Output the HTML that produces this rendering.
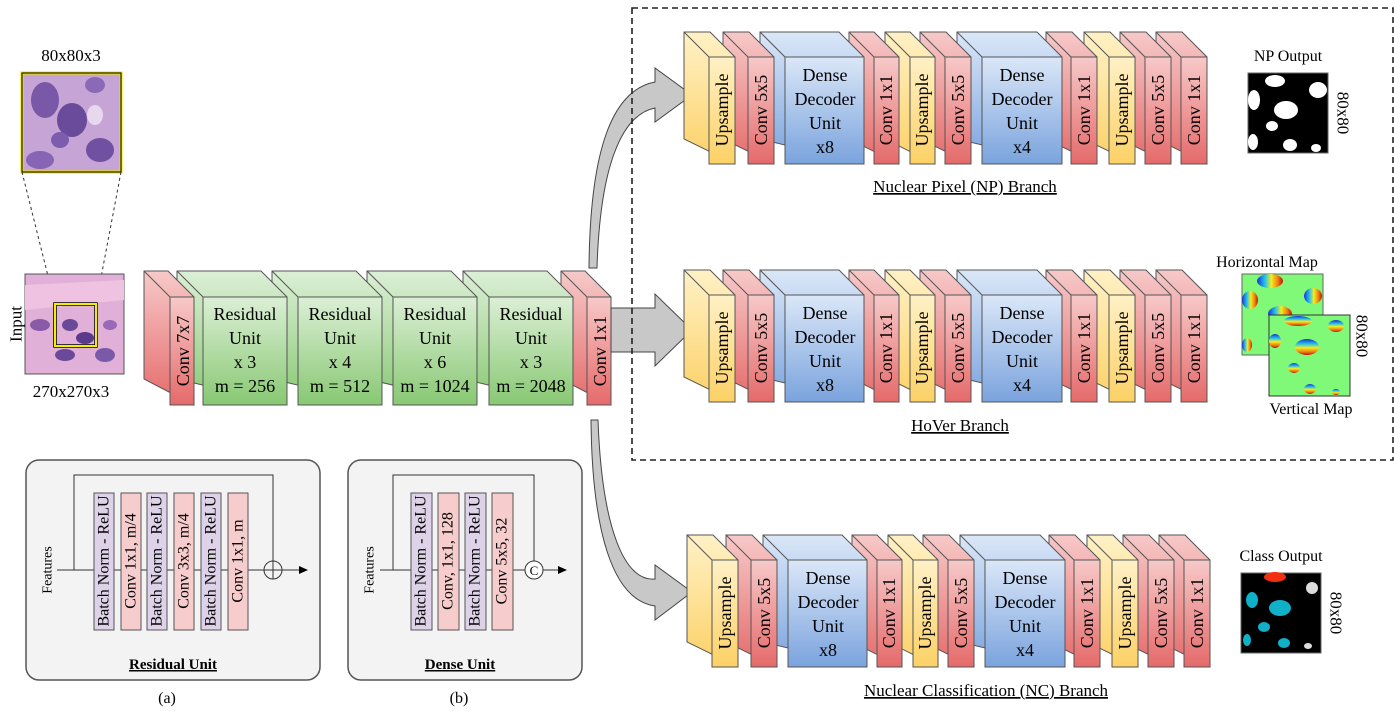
<!DOCTYPE html>
<html><head><meta charset="utf-8"><style>
html,body{margin:0;padding:0;background:#fff}
svg{display:block;font-family:"Liberation Serif",serif}
</style></head><body>
<svg width="1398" height="712" viewBox="0 0 1398 712" xmlns="http://www.w3.org/2000/svg">
<defs>
<linearGradient id="gR" x1="0" y1="0" x2="0" y2="1"><stop offset="0" stop-color="#f7c9c9"/><stop offset="1" stop-color="#e56a6a"/></linearGradient>
<linearGradient id="gY" x1="0" y1="0" x2="0" y2="1"><stop offset="0" stop-color="#fff1c6"/><stop offset="1" stop-color="#fcd166"/></linearGradient>
<linearGradient id="gB" x1="0" y1="0" x2="0" y2="1"><stop offset="0" stop-color="#dbe7f8"/><stop offset="1" stop-color="#7aa3dd"/></linearGradient>
<linearGradient id="gG" x1="0" y1="0" x2="0" y2="1"><stop offset="0" stop-color="#dcefd6"/><stop offset="1" stop-color="#88c873"/></linearGradient>
<linearGradient id="rb" x1="0" y1="0" x2="1" y2="0"><stop offset="0" stop-color="#2030d0"/><stop offset=".3" stop-color="#20c0f0"/><stop offset=".55" stop-color="#f0f020"/><stop offset=".8" stop-color="#f08010"/><stop offset="1" stop-color="#c01010"/></linearGradient>
<linearGradient id="rbv" x1="0" y1="0" x2="0" y2="1"><stop offset="0" stop-color="#2030d0"/><stop offset=".3" stop-color="#20c0f0"/><stop offset=".55" stop-color="#f0f020"/><stop offset=".8" stop-color="#f08010"/><stop offset="1" stop-color="#c01010"/></linearGradient>
</defs>
<g font-size="18" fill="#000">

<!-- Input images -->
<text x="71" y="61" text-anchor="middle" font-size="17">80x80x3</text>
<rect x="22" y="73" width="99" height="99" fill="#c7a4d6" stroke="#e8e000" stroke-width="3"/>
<ellipse cx="45" cy="100" rx="14" ry="18" fill="#7a58a8"/>
<ellipse cx="72" cy="120" rx="15" ry="17" fill="#6a4a9a"/>
<ellipse cx="95" cy="85" rx="10" ry="8" fill="#8a6ab6"/>
<ellipse cx="60" cy="140" rx="9" ry="8" fill="#7c5cac"/>
<ellipse cx="40" cy="160" rx="14" ry="9" fill="#8864b4"/>
<ellipse cx="100" cy="150" rx="14" ry="12" fill="#7050a0"/>
<ellipse cx="95" cy="115" rx="8" ry="10" fill="#e8d8ee"/>
<rect x="22" y="73" width="99" height="99" fill="none" stroke="#000" stroke-width="1"/>
<line x1="22" y1="172" x2="55" y2="304" stroke="#333" stroke-dasharray="3,3"/>
<line x1="121" y1="172" x2="96" y2="304" stroke="#333" stroke-dasharray="3,3"/>
<rect x="25" y="274" width="99" height="100" fill="#e0b0d8" stroke="#555"/>
<path d="M25,285 L124,280 L124,300 L25,310Z" fill="#eec2e0"/>
<ellipse cx="40" cy="325" rx="10" ry="6" fill="#8a5aa8"/>
<ellipse cx="70" cy="325" rx="8" ry="6" fill="#6a4a98"/>
<ellipse cx="85" cy="338" rx="9" ry="6" fill="#5a3a8a"/>
<ellipse cx="65" cy="355" rx="10" ry="6" fill="#6a4a98"/>
<ellipse cx="105" cy="355" rx="10" ry="7" fill="#7a5aa8"/>
<ellipse cx="110" cy="325" rx="7" ry="5" fill="#9a6ab8"/>
<rect x="55" y="304" width="41" height="42" fill="none" stroke="#000" stroke-width="3.5"/>
<rect x="55" y="304" width="41" height="42" fill="none" stroke="#f0f000" stroke-width="2"/>
<text transform="translate(16,324) rotate(-90)" text-anchor="middle" dominant-baseline="central" font-size="17">Input</text>
<text x="71" y="397" text-anchor="middle" font-size="17">270x270x3</text>

<!-- Encoder (right to left) -->
<g stroke="#555" stroke-width="1">
<polygon points="561,271 585,271 611,297 611,405 561,379" fill="url(#gR)"/><rect x="587" y="297" width="24" height="108" fill="url(#gR)"/><line x1="561" y1="271" x2="587" y2="297"/>
<polygon points="463,271 547,271 573,297 573,405 463,379" fill="url(#gG)"/><rect x="489" y="297" width="84" height="108" fill="url(#gG)"/><line x1="463" y1="271" x2="489" y2="297"/>
<polygon points="367,271 451,271 477,297 477,405 367,379" fill="url(#gG)"/><rect x="393" y="297" width="84" height="108" fill="url(#gG)"/><line x1="367" y1="271" x2="393" y2="297"/>
<polygon points="272,271 356,271 382,297 382,405 272,379" fill="url(#gG)"/><rect x="298" y="297" width="84" height="108" fill="url(#gG)"/><line x1="272" y1="271" x2="298" y2="297"/>
<polygon points="177,271 261,271 287,297 287,405 177,379" fill="url(#gG)"/><rect x="203" y="297" width="84" height="108" fill="url(#gG)"/><line x1="177" y1="271" x2="203" y2="297"/>
<polygon points="144,271 168,271 194,297 194,405 144,379" fill="url(#gR)"/><rect x="170" y="297" width="24" height="108" fill="url(#gR)"/><line x1="144" y1="271" x2="170" y2="297"/>
</g>
<text transform="translate(183,351) rotate(-90)" text-anchor="middle" dominant-baseline="central">Conv 7x7</text>
<text transform="translate(600,351) rotate(-90)" text-anchor="middle" dominant-baseline="central">Conv 1x1</text>
<g text-anchor="middle">
<text x="245" y="320">Residual</text><text x="245" y="344">Unit</text><text x="245" y="368">x 3</text><text x="245" y="392">m = 256</text>
<text x="340" y="320">Residual</text><text x="340" y="344">Unit</text><text x="340" y="368">x 4</text><text x="340" y="392">m = 512</text>
<text x="435" y="320">Residual</text><text x="435" y="344">Unit</text><text x="435" y="368">x 6</text><text x="435" y="392">m = 1024</text>
<text x="531" y="320">Residual</text><text x="531" y="344">Unit</text><text x="531" y="368">x 3</text><text x="531" y="392">m = 2048</text>
</g>

<!-- Arrows -->
<g fill="#c8c8c8" stroke="#444" stroke-width="1">
<polygon points="611,308 655,308 655,294 692,330 655,366 655,352 611,352"/>
<path d="M589,268 C590,150 612,90 655,82 L655,68 L692,95 L655,122 L655,108 C620,115 600,170 597,268 Z"/>
<path d="M598,420 C602,530 625,582 655,579 L655,565 L692,592 L655,620 L655,606 C612,600 592,530 591,420 Z"/>
</g>

<rect x="632" y="8" width="761" height="452" fill="none" stroke="#222" stroke-width="1.6" stroke-dasharray="6,4"/>

<!-- NP branch -->
<g>
<g stroke="#555">
<polygon points="1156,32 1182,32 1207,57 1207,164 1156,139" fill="url(#gR)"/><rect x="1181" y="57" width="26" height="107" fill="url(#gR)"/><line x1="1156" y1="32" x2="1181" y2="57"/>
<polygon points="1120,32 1146,32 1171,57 1171,164 1120,139" fill="url(#gR)"/><rect x="1145" y="57" width="26" height="107" fill="url(#gR)"/><line x1="1120" y1="32" x2="1145" y2="57"/>
<polygon points="1084,32 1110,32 1135,57 1135,164 1084,139" fill="url(#gY)"/><rect x="1109" y="57" width="26" height="107" fill="url(#gY)"/><line x1="1084" y1="32" x2="1109" y2="57"/>
<polygon points="1046,32 1072,32 1097,57 1097,164 1046,139" fill="url(#gR)"/><rect x="1071" y="57" width="26" height="107" fill="url(#gR)"/><line x1="1046" y1="32" x2="1071" y2="57"/>
<polygon points="957,32 1037,32 1062,57 1062,164 957,139" fill="url(#gB)"/><rect x="982" y="57" width="80" height="107" fill="url(#gB)"/><line x1="957" y1="32" x2="982" y2="57"/>
<polygon points="920,32 946,32 971,57 971,164 920,139" fill="url(#gR)"/><rect x="945" y="57" width="26" height="107" fill="url(#gR)"/><line x1="920" y1="32" x2="945" y2="57"/>
<polygon points="885,32 910,32 935,57 935,164 885,139" fill="url(#gY)"/><rect x="910" y="57" width="25" height="107" fill="url(#gY)"/><line x1="885" y1="32" x2="910" y2="57"/>
<polygon points="849,32 874,32 899,57 899,164 849,139" fill="url(#gR)"/><rect x="874" y="57" width="25" height="107" fill="url(#gR)"/><line x1="849" y1="32" x2="874" y2="57"/>
<polygon points="760,32 839,32 864,57 864,164 760,139" fill="url(#gB)"/><rect x="785" y="57" width="79" height="107" fill="url(#gB)"/><line x1="760" y1="32" x2="785" y2="57"/>
<polygon points="723,32 749,32 774,57 774,164 723,139" fill="url(#gR)"/><rect x="748" y="57" width="26" height="107" fill="url(#gR)"/><line x1="723" y1="32" x2="748" y2="57"/>
<polygon points="684,32 710,32 735,57 735,164 684,139" fill="url(#gY)"/><rect x="709" y="57" width="26" height="107" fill="url(#gY)"/><line x1="684" y1="32" x2="709" y2="57"/>
</g>
<g text-anchor="middle" dominant-baseline="central">
<text transform="translate(722,110) rotate(-90)">Upsample</text>
<text transform="translate(761,110) rotate(-90)">Conv 5x5</text>
<text transform="translate(886,110) rotate(-90)">Conv 1x1</text>
<text transform="translate(922,110) rotate(-90)">Upsample</text>
<text transform="translate(958,110) rotate(-90)">Conv 5x5</text>
<text transform="translate(1084,110) rotate(-90)">Conv 1x1</text>
<text transform="translate(1122,110) rotate(-90)">Upsample</text>
<text transform="translate(1158,110) rotate(-90)">Conv 5x5</text>
<text transform="translate(1194,110) rotate(-90)">Conv 1x1</text>
</g>
<g text-anchor="middle">
<text x="825" y="81">Dense</text><text x="825" y="105">Decoder</text><text x="825" y="129">Unit</text><text x="825" y="153">x8</text>
<text x="1022" y="81">Dense</text><text x="1022" y="105">Decoder</text><text x="1022" y="129">Unit</text><text x="1022" y="153">x4</text>
</g>
<text x="965" y="192" text-anchor="middle" text-decoration="underline" font-size="17">Nuclear Pixel (NP) Branch</text>
</g>

<!-- HoVer branch -->
<g transform="translate(0,238)">
<g stroke="#555">
<polygon points="1156,32 1182,32 1207,57 1207,164 1156,139" fill="url(#gR)"/><rect x="1181" y="57" width="26" height="107" fill="url(#gR)"/><line x1="1156" y1="32" x2="1181" y2="57"/>
<polygon points="1120,32 1146,32 1171,57 1171,164 1120,139" fill="url(#gR)"/><rect x="1145" y="57" width="26" height="107" fill="url(#gR)"/><line x1="1120" y1="32" x2="1145" y2="57"/>
<polygon points="1084,32 1110,32 1135,57 1135,164 1084,139" fill="url(#gY)"/><rect x="1109" y="57" width="26" height="107" fill="url(#gY)"/><line x1="1084" y1="32" x2="1109" y2="57"/>
<polygon points="1046,32 1072,32 1097,57 1097,164 1046,139" fill="url(#gR)"/><rect x="1071" y="57" width="26" height="107" fill="url(#gR)"/><line x1="1046" y1="32" x2="1071" y2="57"/>
<polygon points="957,32 1037,32 1062,57 1062,164 957,139" fill="url(#gB)"/><rect x="982" y="57" width="80" height="107" fill="url(#gB)"/><line x1="957" y1="32" x2="982" y2="57"/>
<polygon points="920,32 946,32 971,57 971,164 920,139" fill="url(#gR)"/><rect x="945" y="57" width="26" height="107" fill="url(#gR)"/><line x1="920" y1="32" x2="945" y2="57"/>
<polygon points="885,32 910,32 935,57 935,164 885,139" fill="url(#gY)"/><rect x="910" y="57" width="25" height="107" fill="url(#gY)"/><line x1="885" y1="32" x2="910" y2="57"/>
<polygon points="849,32 874,32 899,57 899,164 849,139" fill="url(#gR)"/><rect x="874" y="57" width="25" height="107" fill="url(#gR)"/><line x1="849" y1="32" x2="874" y2="57"/>
<polygon points="760,32 839,32 864,57 864,164 760,139" fill="url(#gB)"/><rect x="785" y="57" width="79" height="107" fill="url(#gB)"/><line x1="760" y1="32" x2="785" y2="57"/>
<polygon points="723,32 749,32 774,57 774,164 723,139" fill="url(#gR)"/><rect x="748" y="57" width="26" height="107" fill="url(#gR)"/><line x1="723" y1="32" x2="748" y2="57"/>
<polygon points="684,32 710,32 735,57 735,164 684,139" fill="url(#gY)"/><rect x="709" y="57" width="26" height="107" fill="url(#gY)"/><line x1="684" y1="32" x2="709" y2="57"/>
</g>
<g text-anchor="middle" dominant-baseline="central">
<text transform="translate(722,110) rotate(-90)">Upsample</text>
<text transform="translate(761,110) rotate(-90)">Conv 5x5</text>
<text transform="translate(886,110) rotate(-90)">Conv 1x1</text>
<text transform="translate(922,110) rotate(-90)">Upsample</text>
<text transform="translate(958,110) rotate(-90)">Conv 5x5</text>
<text transform="translate(1084,110) rotate(-90)">Conv 1x1</text>
<text transform="translate(1122,110) rotate(-90)">Upsample</text>
<text transform="translate(1158,110) rotate(-90)">Conv 5x5</text>
<text transform="translate(1194,110) rotate(-90)">Conv 1x1</text>
</g>
<g text-anchor="middle">
<text x="825" y="81">Dense</text><text x="825" y="105">Decoder</text><text x="825" y="129">Unit</text><text x="825" y="153">x8</text>
<text x="1022" y="81">Dense</text><text x="1022" y="105">Decoder</text><text x="1022" y="129">Unit</text><text x="1022" y="153">x4</text>
</g>
<text x="960" y="193" text-anchor="middle" text-decoration="underline" font-size="17">HoVer Branch</text>
</g>

<!-- NC branch -->
<g transform="translate(3,503)">
<g stroke="#555">
<polygon points="1156,32 1182,32 1207,57 1207,164 1156,139" fill="url(#gR)"/><rect x="1181" y="57" width="26" height="107" fill="url(#gR)"/><line x1="1156" y1="32" x2="1181" y2="57"/>
<polygon points="1120,32 1146,32 1171,57 1171,164 1120,139" fill="url(#gR)"/><rect x="1145" y="57" width="26" height="107" fill="url(#gR)"/><line x1="1120" y1="32" x2="1145" y2="57"/>
<polygon points="1084,32 1110,32 1135,57 1135,164 1084,139" fill="url(#gY)"/><rect x="1109" y="57" width="26" height="107" fill="url(#gY)"/><line x1="1084" y1="32" x2="1109" y2="57"/>
<polygon points="1046,32 1072,32 1097,57 1097,164 1046,139" fill="url(#gR)"/><rect x="1071" y="57" width="26" height="107" fill="url(#gR)"/><line x1="1046" y1="32" x2="1071" y2="57"/>
<polygon points="957,32 1037,32 1062,57 1062,164 957,139" fill="url(#gB)"/><rect x="982" y="57" width="80" height="107" fill="url(#gB)"/><line x1="957" y1="32" x2="982" y2="57"/>
<polygon points="920,32 946,32 971,57 971,164 920,139" fill="url(#gR)"/><rect x="945" y="57" width="26" height="107" fill="url(#gR)"/><line x1="920" y1="32" x2="945" y2="57"/>
<polygon points="885,32 910,32 935,57 935,164 885,139" fill="url(#gY)"/><rect x="910" y="57" width="25" height="107" fill="url(#gY)"/><line x1="885" y1="32" x2="910" y2="57"/>
<polygon points="849,32 874,32 899,57 899,164 849,139" fill="url(#gR)"/><rect x="874" y="57" width="25" height="107" fill="url(#gR)"/><line x1="849" y1="32" x2="874" y2="57"/>
<polygon points="760,32 839,32 864,57 864,164 760,139" fill="url(#gB)"/><rect x="785" y="57" width="79" height="107" fill="url(#gB)"/><line x1="760" y1="32" x2="785" y2="57"/>
<polygon points="723,32 749,32 774,57 774,164 723,139" fill="url(#gR)"/><rect x="748" y="57" width="26" height="107" fill="url(#gR)"/><line x1="723" y1="32" x2="748" y2="57"/>
<polygon points="684,32 710,32 735,57 735,164 684,139" fill="url(#gY)"/><rect x="709" y="57" width="26" height="107" fill="url(#gY)"/><line x1="684" y1="32" x2="709" y2="57"/>
</g>
<g text-anchor="middle" dominant-baseline="central">
<text transform="translate(722,110) rotate(-90)">Upsample</text>
<text transform="translate(761,110) rotate(-90)">Conv 5x5</text>
<text transform="translate(886,110) rotate(-90)">Conv 1x1</text>
<text transform="translate(922,110) rotate(-90)">Upsample</text>
<text transform="translate(958,110) rotate(-90)">Conv 5x5</text>
<text transform="translate(1084,110) rotate(-90)">Conv 1x1</text>
<text transform="translate(1122,110) rotate(-90)">Upsample</text>
<text transform="translate(1158,110) rotate(-90)">Conv 5x5</text>
<text transform="translate(1194,110) rotate(-90)">Conv 1x1</text>
</g>
<g text-anchor="middle">
<text x="825" y="81">Dense</text><text x="825" y="105">Decoder</text><text x="825" y="129">Unit</text><text x="825" y="153">x8</text>
<text x="1022" y="81">Dense</text><text x="1022" y="105">Decoder</text><text x="1022" y="129">Unit</text><text x="1022" y="153">x4</text>
</g>
<text x="983" y="193" text-anchor="middle" text-decoration="underline" font-size="17">Nuclear Classification (NC) Branch</text>
</g>

<!-- Outputs -->
<text x="1288" y="61" text-anchor="middle" font-size="16">NP Output</text>
<rect x="1248" y="73" width="80" height="80" fill="#000" stroke="#666"/>
<g fill="#fff">
<ellipse cx="1275" cy="81" rx="10" ry="6"/><ellipse cx="1318" cy="90" rx="9" ry="8"/><ellipse cx="1254" cy="100" rx="6" ry="10"/>
<ellipse cx="1286" cy="110" rx="12" ry="9"/><ellipse cx="1272" cy="126" rx="6" ry="5"/><ellipse cx="1253" cy="142" rx="5" ry="8"/>
<ellipse cx="1290" cy="145" rx="7" ry="6"/><ellipse cx="1316" cy="148" rx="5" ry="4"/>
</g>
<text transform="translate(1343,113) rotate(90)" text-anchor="middle" dominant-baseline="central" font-size="17">80x80</text>

<text x="1267" y="267" text-anchor="middle" font-size="16">Horizontal Map</text>
<rect x="1242" y="274" width="81" height="81" fill="#80f878" stroke="#666"/>
<ellipse cx="1270" cy="281" rx="13" ry="7" fill="url(#rb)"/><ellipse cx="1313" cy="296" rx="9" ry="8" fill="url(#rb)"/><ellipse cx="1250" cy="300" rx="8" ry="9" fill="url(#rb)"/><ellipse cx="1280" cy="314" rx="12" ry="8" fill="url(#rb)"/><ellipse cx="1247" cy="345" rx="5" ry="7" fill="url(#rb)"/>
<rect x="1269" y="315" width="81" height="81" fill="#80f878" stroke="#333"/>
<ellipse cx="1298" cy="321" rx="14" ry="5" fill="url(#rbv)"/><ellipse cx="1336" cy="326" rx="8" ry="6" fill="url(#rbv)"/><ellipse cx="1307" cy="347" rx="12" ry="8" fill="url(#rbv)"/><ellipse cx="1275" cy="341" rx="6" ry="7" fill="url(#rbv)"/><ellipse cx="1294" cy="368" rx="6" ry="5" fill="url(#rbv)"/><ellipse cx="1310" cy="389" rx="6" ry="5" fill="url(#rbv)"/><ellipse cx="1336" cy="392" rx="4" ry="3" fill="url(#rbv)"/>
<text x="1311" y="414" text-anchor="middle" font-size="16">Vertical Map</text>
<text transform="translate(1362,336) rotate(90)" text-anchor="middle" dominant-baseline="central" font-size="17">80x80</text>

<text x="1281" y="561" text-anchor="middle" font-size="16">Class Output</text>
<rect x="1241" y="573" width="80" height="80" fill="#000" stroke="#666"/>
<ellipse cx="1275" cy="577" rx="11" ry="5" fill="#f03010"/>
<ellipse cx="1312" cy="588" rx="6" ry="6" fill="#ddd"/>
<ellipse cx="1252" cy="600" rx="6" ry="8" fill="#10b0c8"/>
<ellipse cx="1280" cy="608" rx="11" ry="8" fill="#10b0c8"/>
<ellipse cx="1264" cy="627" rx="6" ry="5" fill="#10b0c8"/>
<ellipse cx="1247" cy="640" rx="4" ry="6" fill="#10b0c8"/>
<ellipse cx="1284" cy="643" rx="6" ry="5" fill="#10b0c8"/>
<ellipse cx="1308" cy="646" rx="4" ry="3" fill="#ddd"/>
<text transform="translate(1336,613) rotate(90)" text-anchor="middle" dominant-baseline="central" font-size="17">80x80</text>

<!-- Panel a -->
<rect x="26" y="460" width="294" height="220" rx="13" fill="#f3f3f3" stroke="#555" stroke-width="1.5"/>
<g stroke="#333" fill="none">
<line x1="57" y1="570" x2="300" y2="570"/>
<polyline points="74,570 74,475 273,475 273,561"/>
<circle cx="273" cy="570" r="9" fill="#f3f3f3"/>
<line x1="264" y1="570" x2="282" y2="570"/><line x1="273" y1="561" x2="273" y2="579"/>
</g>
<polygon points="308,570 299,566 299,574" fill="#000"/>
<g stroke="#555">
<rect x="94" y="493" width="20" height="137" fill="#ddd2e8"/>
<rect x="121" y="493" width="20" height="137" fill="#f6cccc"/>
<rect x="147" y="493" width="20" height="137" fill="#ddd2e8"/>
<rect x="174" y="493" width="20" height="137" fill="#f6cccc"/>
<rect x="201" y="493" width="20" height="137" fill="#ddd2e8"/>
<rect x="228" y="493" width="20" height="137" fill="#f6cccc"/>
</g>
<g font-size="16" text-anchor="middle" dominant-baseline="central">
<text transform="translate(48,570) rotate(-90)" font-size="14">Features</text>
<text transform="translate(104,561) rotate(-90)">Batch Norm - ReLU</text>
<text transform="translate(131,561) rotate(-90)">Conv 1x1, m/4</text>
<text transform="translate(157,561) rotate(-90)">Batch Norm - ReLU</text>
<text transform="translate(184,561) rotate(-90)">Conv 3x3, m/4</text>
<text transform="translate(211,561) rotate(-90)">Batch Norm - ReLU</text>
<text transform="translate(238,561) rotate(-90)">Conv 1x1, m</text>
</g>
<text x="173" y="669" text-anchor="middle" font-size="15" font-weight="bold" text-decoration="underline">Residual Unit</text>
<text x="167" y="703" text-anchor="middle" font-size="16">(a)</text>

<!-- Panel b -->
<rect x="348" y="460" width="234" height="220" rx="13" fill="#f3f3f3" stroke="#555" stroke-width="1.5"/>
<g stroke="#333" fill="none">
<line x1="380" y1="570" x2="560" y2="570"/>
<polyline points="393,570 393,475 534,475 534,561"/>
<circle cx="534" cy="570" r="9" fill="#fff"/>
</g>
<text x="534" y="575" text-anchor="middle" font-size="13">C</text>
<polygon points="567,570 558,566 558,574" fill="#000"/>
<g stroke="#555">
<rect x="411" y="493" width="21" height="137" fill="#ddd2e8"/>
<rect x="438" y="493" width="21" height="137" fill="#f6cccc"/>
<rect x="465" y="493" width="21" height="137" fill="#ddd2e8"/>
<rect x="492" y="493" width="21" height="137" fill="#f6cccc"/>
</g>
<g font-size="16" text-anchor="middle" dominant-baseline="central">
<text transform="translate(370,570) rotate(-90)" font-size="14">Features</text>
<text transform="translate(421,561) rotate(-90)">Batch Norm - ReLU</text>
<text transform="translate(448,561) rotate(-90)">Conv, 1x1, 128</text>
<text transform="translate(475,561) rotate(-90)">Batch Norm - ReLU</text>
<text transform="translate(502,561) rotate(-90)">Conv 5x5, 32</text>
</g>
<text x="460" y="669" text-anchor="middle" font-size="15" font-weight="bold" text-decoration="underline">Dense Unit</text>
<text x="459" y="703" text-anchor="middle" font-size="16">(b)</text>
</g>
</svg>
</body></html>
